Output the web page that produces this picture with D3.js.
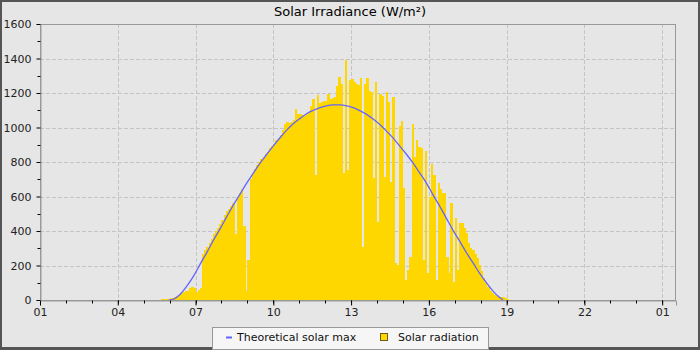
<!DOCTYPE html>
<html><head><meta charset="utf-8">
<script src="https://cdn.jsdelivr.net/npm/d3@7"></script>
<style>body{margin:0;background:#fff}svg{display:block}text{font-family:"DejaVu Sans",sans-serif}</style>
</head><body>
<script>
// ---- data ----
const chartTitle = "Solar Irradiance (W/m²)";
const radStart = "05:40";       // first 5-minute bar
const radStepMinutes = 5;
const solarRadiation = [3,6,8,8,10,14,18,24,30,38,
45,50,55,72,78,68,45,60,70,265,
290,310,330,355,380,400,420,440,465,490,
515,530,545,565,385,600,620,645,430,50,
230,700,730,760,780,800,815,830,845,860,
880,895,905,925,940,955,985,1020,1030,1025,
1030,1045,1110,1080,1080,1070,1065,1080,1090,1125,
1165,725,1190,1140,1150,1153,1155,1195,1165,1170,
1175,1240,1290,1255,735,1390,755,1275,1280,1265,
1250,1246,1285,305,1250,1287,1210,1205,705,1265,
455,1196,1180,713,1206,1150,685,1178,215,205,
1010,1035,650,115,175,250,1020,830,925,885,
880,232,865,155,600,790,725,116,680,645,
620,620,250,155,565,104,475,174,446,446,
420,388,330,300,290,265,245,205,170,130,
100,75,52,40,28,22,18,15,15,12,
8];
const theoTimes = ["05:58","06:08","06:24","06:39","06:55","07:10","07:26","07:41","07:57","08:12","08:27","08:43","08:58","09:14","09:29","09:45","10:00","10:15","10:31","10:46","11:02","11:17","11:33","11:48","12:03","12:19","12:34","12:50","13:05","13:20","13:36","13:51","14:07","14:22","14:38","14:53","15:08","15:24","15:39","15:55","16:10","16:26","16:41","16:56","17:12","17:27","17:43","17:58","18:14","18:29","18:44","18:52"];
const theoValues = [0,4,32,78,137,205,275,345,414,482,549,614,676,736,792,845,894,939,985,1022,1053,1080,1100,1115,1126,1131,1131,1126,1115,1098,1076,1049,1016,979,937,891,845,792,736,675,608,540,472,404,338,274,212,153,98,50,14,0];
const yTicks = [0,200,400,600,800,1000,1200,1400,1600];
const xTickHours = ["01","04","07","10","13","16","19","22","01"];
const legendLabels = ["Theoretical solar max","Solar radiation"];

// ---- helpers ----
function t(hm, plusDay){ const [h,m]=hm.split(":").map(Number); return new Date(2024,0,1+(plusDay?1:0),h,m); }
const radData = solarRadiation.map((v,i)=>{ const s=t(radStart); s.setMinutes(s.getMinutes()+i*radStepMinutes); const e=new Date(s); e.setMinutes(e.getMinutes()+radStepMinutes); return {s,e,v}; });
const theoData = theoTimes.map((s,i)=>({d:t(s),v:theoValues[i]}));

const W=700,H=350;
const svg=d3.select("body").append("svg").attr("width",W).attr("height",H);
svg.append("rect").attr("width",W).attr("height",H).attr("fill","#555");
svg.append("rect").attr("x",2).attr("y",2).attr("width",W-4).attr("height",H-5).attr("fill","#e6e6e6");

const L=40,R=676,T=24,B=300;
const x=d3.scaleTime().domain([t("01:00"), new Date(2024,0,2,1,32)]).range([L,R]);
const y=d3.scaleLinear().domain([0,1600]).range([B,T]);

// grid
const majorX=xTickHours.map((h,i)=>t(h+":00", i===xTickHours.length-1));
const g=svg.append("g");
g.selectAll(".gx").data(majorX.slice(1)).join("line")
 .attr("x1",d=>Math.round(x(d))+0.5).attr("x2",d=>Math.round(x(d))+0.5).attr("y1",T).attr("y2",B)
 .attr("stroke","#c4c4c4").attr("stroke-dasharray","4,2");
g.selectAll(".gy").data(yTicks.slice(1,-1)).join("line")
 .attr("y1",d=>Math.round(y(d))+0.5).attr("y2",d=>Math.round(y(d))+0.5).attr("x1",L).attr("x2",R)
 .attr("stroke","#c4c4c4").attr("stroke-dasharray","4,2");

// bars
svg.append("g").selectAll("rect").data(radData).join("rect")
 .attr("x",d=>x(d.s)).attr("width",d=>x(d.e)-x(d.s)+0.3)
 .attr("y",d=>y(d.v)).attr("height",d=>B-y(d.v))
 .attr("fill","#ffd700").attr("shape-rendering","crispEdges");

// theoretical line
svg.append("path").datum(theoData)
 .attr("d",d3.line().x(d=>x(d.d)).y(d=>y(d.v)).curve(d3.curveMonotoneX))
 .attr("fill","none").attr("stroke","#6464ff").attr("stroke-width",1.3);

// frame
svg.append("rect").attr("x",L+0.5).attr("y",T+0.5).attr("width",R-L-1).attr("height",B-T)
 .attr("fill","none").attr("stroke","#999");

// axes
const xAxis=d3.axisBottom(x).tickValues(majorX).tickFormat(d3.timeFormat("%H")).tickSize(5).tickPadding(3);
const gx=svg.append("g").attr("transform",`translate(0,${B+0.5})`).call(xAxis);
const minorX=d3.timeHour.range(t("01:00"), new Date(2024,0,2,1,32));
gx.selectAll(".minor").data(minorX).join("line").attr("class","minor")
 .attr("x1",d=>Math.round(x(d))+0.5).attr("x2",d=>Math.round(x(d))+0.5).attr("y1",0).attr("y2",3).attr("stroke","#000");
const yAxis=d3.axisLeft(y).tickValues(yTicks).tickFormat(d3.format("d")).tickSize(4).tickPadding(5);
const gy=svg.append("g").attr("transform",`translate(${L+0.5},0)`).call(yAxis);
gy.selectAll(".minor").data(d3.range(100,1600,200)).join("line").attr("class","minor")
 .attr("y1",d=>Math.round(y(d))+0.5).attr("y2",d=>Math.round(y(d))+0.5).attr("x1",0).attr("x2",-3).attr("stroke","#000");
[gx,gy].forEach(a=>{a.select(".domain").attr("stroke","#999");a.selectAll(".tick line").attr("stroke","#000");
 a.selectAll("text").attr("font-family","DejaVu Sans").attr("font-size",11).attr("fill","#222");});

// title
svg.append("text").attr("x",350).attr("y",16).attr("text-anchor","middle").attr("font-size",13).attr("fill","#000").text(chartTitle);

// legend
const lg=svg.append("g");
lg.append("rect").attr("x",212.5).attr("y",327.5).attr("width",276).attr("height",22).attr("fill","#f6f6f6").attr("stroke","#999");
lg.append("line").attr("x1",226).attr("x2",232).attr("y1",337.5).attr("y2",337.5).attr("stroke","#6464ff").attr("stroke-width",2);
lg.append("text").attr("x",237).attr("y",341).attr("font-size",11).attr("fill","#111").text(legendLabels[0]);
lg.append("rect").attr("x",380.5).attr("y",333.5).attr("width",7).attr("height",7).attr("fill","#ffd700").attr("stroke","#6b5e1a");
lg.append("text").attr("x",398).attr("y",341).attr("font-size",11).attr("fill","#111").text(legendLabels[1]);
</script>
</body></html>
